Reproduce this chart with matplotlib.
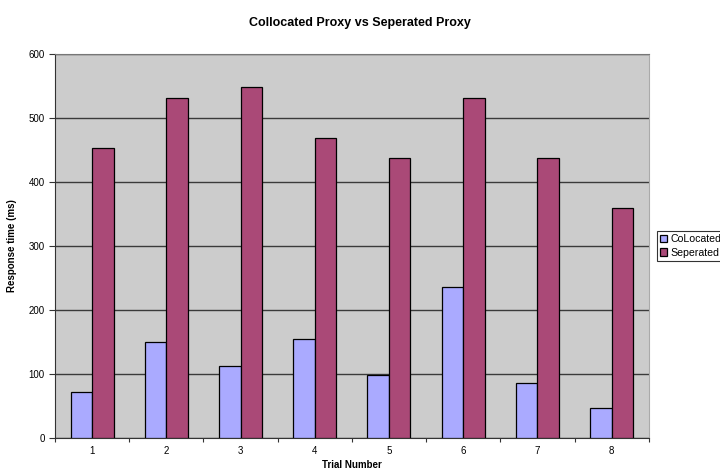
import matplotlib
matplotlib.use("Agg")
import matplotlib.pyplot as plt
import numpy as np

plt.rcParams['font.family'] = ['Liberation Sans', 'DejaVu Sans']

trials = ['1', '2', '3', '4', '5', '6', '7', '8']
colocated = [72, 149, 112, 154, 98, 235, 85, 47]
seperated = [453, 530, 547, 468, 437, 530, 437, 359]

fig = plt.figure(figsize=(7.2, 4.74), dpi=100)
ax = fig.add_axes([0.0764, 0.0766, 0.8246, 0.8104])
ax.set_facecolor('#CCCCCC')

x = np.arange(len(trials)) + 0.5
w = 0.29
ax.bar(x - w / 2, colocated, w, color='#AAAAFF', edgecolor='black', linewidth=0.9,
       label='CoLocated', zorder=3)
ax.bar(x + w / 2, seperated, w, color='#AA4977', edgecolor='black', linewidth=0.9,
       label='Seperated', zorder=3)

ax.set_xlim(0, len(trials))
ax.set_ylim(0, 600)
ax.set_yticks(range(0, 601, 100))
ax.yaxis.grid(True, color='#3a3a3a', linewidth=1.0, zorder=1)

# ticks between categories, labels in the middle
ax.set_xticks(np.arange(0, len(trials) + 1))
ax.set_xticklabels([])
ax.set_xticks(x, minor=True)
ax.set_xticklabels(trials, minor=True)
ax.tick_params(axis='x', which='minor', length=0, labelsize=7, pad=6)
ax.tick_params(axis='x', which='major', length=3, direction='out', color='#333333')
ax.tick_params(axis='y', length=4, direction='out', labelsize=7, color='#333333')

ax.spines['top'].set_color('#777777')
ax.spines['right'].set_color('#AAAAAA')
for s in ['left', 'bottom']:
    ax.spines[s].set_color('#333333')

ax.set_xlabel('Trial Number', fontsize=7, fontweight='bold', labelpad=3)
ax.set_ylabel('Response time (ms)', fontsize=7, fontweight='bold', labelpad=8)
fig.suptitle('Collocated Proxy vs Seperated Proxy', fontsize=9, fontweight='bold',
             x=0.5, y=0.965)

leg = fig.legend(loc='center left', bbox_to_anchor=(0.912, 0.481), fontsize=7.6,
                 frameon=True, fancybox=False, edgecolor='black', handlelength=0.7,
                 handleheight=0.7, handletextpad=0.3, borderpad=0.3, labelspacing=0.35,
                 borderaxespad=0)
leg.get_frame().set_linewidth(0.8)

fig.savefig('out.png', dpi=100)
